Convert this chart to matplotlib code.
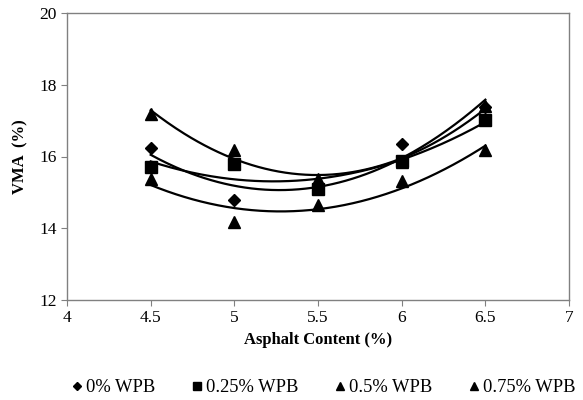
import matplotlib.pyplot as plt
import numpy as np

plt.rcParams['font.family'] = ['Liberation Serif', 'DejaVu Serif']

### Data
asphalt = [4.5, 5.0, 5.5, 6.0, 6.5]
vma_0 = [16.25, 14.78, 15.15, 16.36, 17.38]
vma_025 = [15.70, 15.78, 15.10, 15.87, 17.03]
vma_05 = [15.38, 14.17, 14.66, 15.33, 16.17]
vma_075 = [17.19, 16.17, 15.38, 15.85, 17.40]

series = [
    ("0% WPB", vma_0, "D", 6),
    ("0.25% WPB", vma_025, "s", 8),
    ("0.5% WPB", vma_05, "^", 9),
    ("0.75% WPB", vma_075, "^", 9),
]

### Plot
fig = plt.figure(figsize=(5.83, 4.0), dpi=100)
ax = fig.add_axes([0.115, 0.25, 0.861, 0.7175])

x_fit = np.linspace(4.5, 6.5, 200)
for label, vals, marker, ms in series:
    ax.plot(asphalt, vals, linestyle="none", marker=marker, markersize=ms,
            color="black", label=label)
    # second order trendline, as in the original spreadsheet chart
    coef = np.polyfit(asphalt, vals, 2)
    ax.plot(x_fit, np.polyval(coef, x_fit), color="black", linewidth=1.6)

# Decorate plot
ax.set_xlim(4, 7)
ax.set_ylim(12, 20)
ax.set_xticks([4, 4.5, 5, 5.5, 6, 6.5, 7])
ax.set_xticklabels(["4", "4.5", "5", "5.5", "6", "6.5", "7"])
ax.set_yticks([12, 14, 16, 18, 20])
ax.set_xlabel("Asphalt Content (%)", fontsize=12, fontweight="bold")
ax.set_ylabel("VMA  (%)", fontsize=12, fontweight="bold", labelpad=8)
for s in ax.spines.values():
    s.set_color("#808080")
    s.set_linewidth(1.0)
ax.tick_params(direction="out", length=4, color="#808080", labelsize=12.5)

handles, labels = ax.get_legend_handles_labels()
fig.legend(handles, labels, loc="center left", bbox_to_anchor=(0.095, 0.03),
           ncol=4, frameon=False, fontsize=13.3, handlelength=0.55,
           handletextpad=0.2, columnspacing=2.0, markerscale=0.7)

plt.savefig("out.png", dpi=100)
